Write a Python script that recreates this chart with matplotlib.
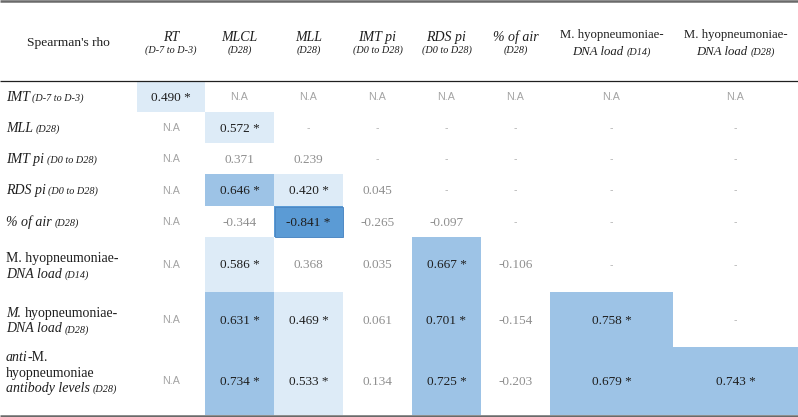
import numpy as np
import matplotlib
matplotlib.use("Agg")
import matplotlib.pyplot as plt
from matplotlib.colors import ListedColormap, BoundaryNorm

NA = None
D = np.nan

# ---- data ----
col_headers = [
    [[("RT", "i", "big")], [("(D-7 to D-3)", "i", "small")]],
    [[("MLCL", "i", "big")], [("(D28)", "i", "small")]],
    [[("MLL", "i", "big")], [("(D28)", "i", "small")]],
    [[("IMT pi", "i", "big")], [("(D0 to D28)", "i", "small")]],
    [[("RDS pi", "i", "big")], [("(D0 to D28)", "i", "small")]],
    [[("% of air", "i", "big")], [("(D28)", "i", "small")]],
    [[("M. hyopneumoniae-", "n", "hdr")], [("DNA load", "i", "hdr"), (" (D14)", "i", "small")]],
    [[("M. hyopneumoniae-", "n", "hdr")], [("DNA load", "i", "hdr"), (" (D28)", "i", "small")]],
]

row_labels = [
    [[("IMT", "i", "big"), (" (D-7 to D-3)", "i", "small")]],
    [[("MLL", "i", "big"), (" (D28)", "i", "small")]],
    [[("IMT pi", "i", "big"), (" (D0 to D28)", "i", "small")]],
    [[("RDS pi", "i", "big"), (" (D0 to D28)", "i", "small")]],
    [[("% of air", "i", "big"), (" (D28)", "i", "small")]],
    [[("M. hyopneumoniae-", "n", "big")], [("DNA load", "i", "big"), (" (D14)", "i", "small")]],
    [[("M.", "i", "big"), (" hyopneumoniae-", "n", "big")], [("DNA load", "i", "big"), (" (D28)", "i", "small")]],
    [[("anti", "i", "big"), ("-M.", "n", "big")], [("hyopneumoniae", "n", "big")],
     [("antibody levels", "i", "big"), (" (D28)", "i", "small")]],
]

rho = [
    [0.490, NA, NA, NA, NA, NA, NA, NA],
    [NA, 0.572, D, D, D, D, D, D],
    [NA, 0.371, 0.239, D, D, D, D, D],
    [NA, 0.646, 0.420, 0.045, D, D, D, D],
    [NA, -0.344, -0.841, -0.265, -0.097, D, D, D],
    [NA, 0.586, 0.368, 0.035, 0.667, -0.106, D, D],
    [NA, 0.631, 0.469, 0.061, 0.701, -0.154, 0.758, D],
    [NA, 0.734, 0.533, 0.134, 0.725, -0.203, 0.679, 0.743],
]

significant = [
    [1, 0, 0, 0, 0, 0, 0, 0],
    [0, 1, 0, 0, 0, 0, 0, 0],
    [0, 0, 0, 0, 0, 0, 0, 0],
    [0, 1, 1, 0, 0, 0, 0, 0],
    [0, 0, 1, 0, 0, 0, 0, 0],
    [0, 1, 0, 0, 1, 0, 0, 0],
    [0, 1, 1, 0, 1, 0, 1, 0],
    [0, 1, 1, 0, 1, 0, 1, 1],
]

# ---- layout (pixels) ----
W, H = 798, 417
col_edges = np.array([137, 205, 274, 343, 412, 481, 550, 673, 798])
row_edges = np.array([81, 112, 143, 174, 206, 237, 292, 347, 415])

SERIF = "Liberation Serif"
SANS = "Liberation Sans"
SIZES = {"big": 10, "hdr": 9.2, "small": 7.3}
DARK = "#1e1e1e"
GREY = "#8f8f8f"

fig = plt.figure(figsize=(W / 100, H / 100), dpi=100)
ax = fig.add_axes([0, 0, 1, 1])
ax.set_xlim(0, W)
ax.set_ylim(H, 0)
ax.axis("off")
renderer = fig.canvas.get_renderer()

# ---- cell colours ----
vals = np.array([[np.nan if v is None else v for v in r] for r in rho], dtype=float)
sig = np.array(significant, dtype=bool)
C = np.where(sig, np.abs(np.nan_to_num(vals)), 0.0)
cmap = ListedColormap(["#ffffff", "#ddebf7", "#9dc3e6", "#5b9bd5"])
norm = BoundaryNorm([0, 0.01, 0.6, 0.8, 1.0], cmap.N)
ax.pcolormesh(col_edges, row_edges, C, cmap=cmap, norm=norm, shading="flat",
              edgecolors="none", zorder=1)
for i in range(C.shape[0]):
    for j in range(C.shape[1]):
        if C[i, j] > 0.8:
            ax.add_patch(plt.Rectangle((col_edges[j] + 0.5, row_edges[i] + 0.5),
                                       col_edges[j + 1] - col_edges[j] - 1,
                                       row_edges[i + 1] - row_edges[i] - 1,
                                       fill=False, ec="#4d88c4", lw=0.7, zorder=2))


def draw_pieces(x, y, pieces, ha="left", color=DARK):
    texts, widths, gaps = [], [], []
    for txt, style, size in pieces:
        fs = SIZES[size]
        gap = 0.0
        if txt.startswith(" "):
            gap = fs * 1.389 * 0.25
            txt = txt.lstrip(" ")
        t = ax.text(x, y, txt, fontsize=fs, family=SERIF,
                    style="italic" if style == "i" else "normal",
                    color=color, ha="left", va="baseline", zorder=5)
        bb = t.get_window_extent(renderer)
        texts.append(t)
        widths.append(bb.width)
        gaps.append(gap)
    total = sum(widths) + sum(gaps)
    cx = x - total / 2 if ha == "center" else x
    for t, w, g in zip(texts, widths, gaps):
        cx += g
        t.set_x(cx)
        cx += w


# ---- header ----
ax.text(68.5, 45.5, "Spearman's rho", fontsize=9.7, family=SERIF, color=DARK,
        ha="center", va="baseline", zorder=5)
for j, lines in enumerate(col_headers):
    xc = (col_edges[j] + col_edges[j + 1]) / 2
    if len(lines[1]) > 1:
        baselines = [37.5, 54.5]
    else:
        baselines = [40.5, 53]
    for ln, yb in zip(lines, baselines):
        draw_pieces(xc, yb, ln, ha="center")

# ---- row labels ----
for i, lines in enumerate(row_labels):
    top, bot = row_edges[i], row_edges[i + 1]
    c = (top + bot) / 2
    n = len(lines)
    if n == 1:
        baselines = [c + 4]
    elif n == 2:
        baselines = [c - 2.5, c + 13]
    else:
        baselines = [top + 14, top + 29.5, top + 45]
    for ln, yb in zip(lines, baselines):
        draw_pieces(6, yb, ln, ha="left")

# ---- cell values ----
for i in range(len(rho)):
    yc = (row_edges[i] + row_edges[i + 1]) / 2
    for j in range(len(rho[i])):
        xc = (col_edges[j] + col_edges[j + 1]) / 2
        v = rho[i][j]
        if v is None:
            ax.text(xc, yc + 0.5, "N.A", fontsize=7.7, family=SANS, color="#a3a3a3",
                    ha="center", va="center", zorder=5)
        elif np.isnan(v):
            ax.text(xc, yc + 0.5, "-", fontsize=7.5, family=SANS, color="#b0b0b0",
                    ha="center", va="center", zorder=5)
        else:
            s = f"{v:.3f}"
            if significant[i][j]:
                ax.text(xc, yc + 4, s + " *", fontsize=9.5, family=SERIF, color=DARK,
                        ha="center", va="baseline", zorder=5)
            else:
                ax.text(xc, yc + 4, s, fontsize=9.5, family=SERIF, color=GREY,
                        ha="center", va="baseline", zorder=5)

# ---- rules ----
ax.plot([0, W], [1.2, 1.2], color="#6a6a6a", lw=1.8, solid_capstyle="butt", zorder=6)
ax.plot([0, W], [81, 81], color="#202020", lw=0.9, solid_capstyle="butt", zorder=6)
ax.plot([0, W], [415.6, 415.6], color="#6a6a6a", lw=1.8, solid_capstyle="butt", zorder=6)

fig.savefig("out.png", dpi=100)
